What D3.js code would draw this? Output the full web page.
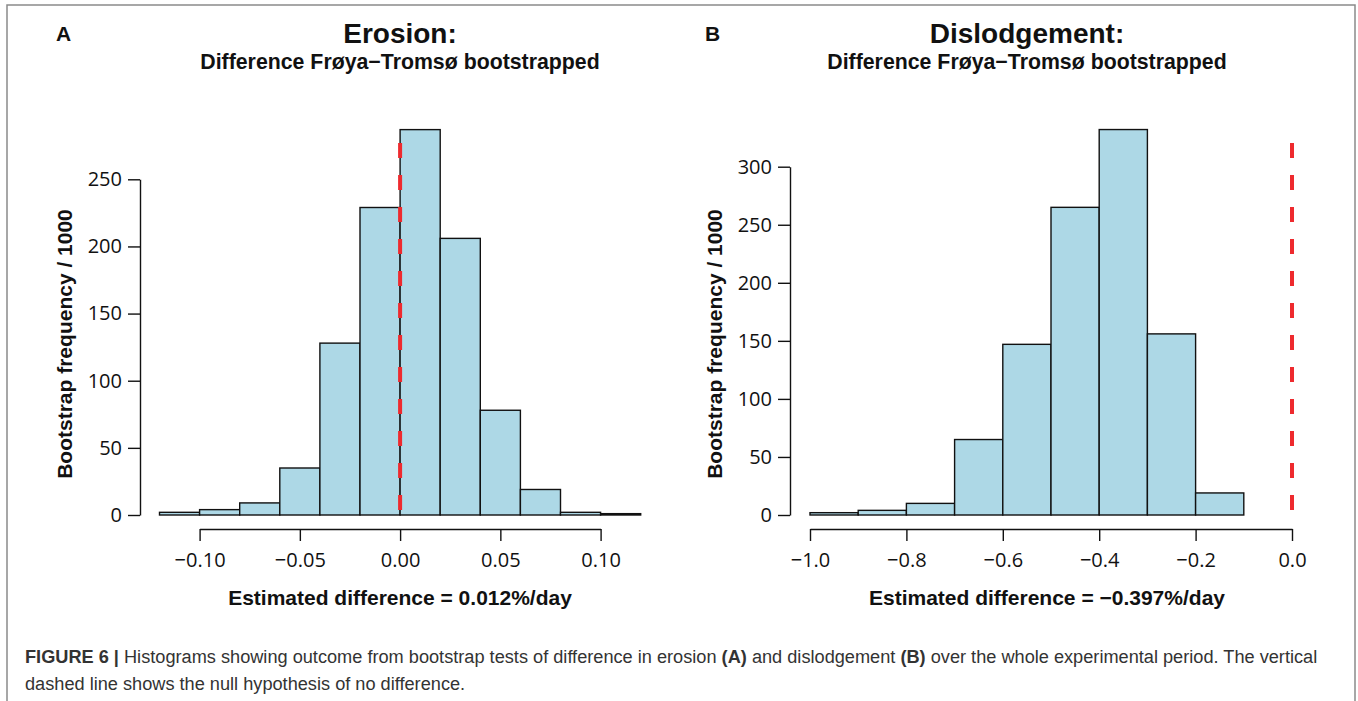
<!DOCTYPE html>
<html>
<head>
<meta charset="utf-8">
<script src="https://cdn.jsdelivr.net/npm/d3@7"></script>
<style>
  body { margin: 0; background: #fff; }
  svg { display: block; }
</style>
</head>
<body>
<svg width="1358" height="701"></svg>
<script>
// Histogram data (bin edges + counts out of 1000)
const erosionBreaks = [-0.12, -0.10, -0.08, -0.06, -0.04, -0.02, 0.00, 0.02, 0.04, 0.06, 0.08, 0.10, 0.12];
const erosionCounts = [2, 4, 9, 35, 128, 229, 287, 206, 78, 19, 2, 1];
const erosionXTicks = [-0.10, -0.05, 0.00, 0.05, 0.10];
const erosionYTicks = [0, 50, 100, 150, 200, 250];

const dislodgeBreaks = [-1.0, -0.9, -0.8, -0.7, -0.6, -0.5, -0.4, -0.3, -0.2, -0.1];
const dislodgeCounts = [2, 4, 10, 65, 147, 265, 332, 156, 19];
const dislodgeXTicks = [-1.0, -0.8, -0.6, -0.4, -0.2, 0.0];
const dislodgeYTicks = [0, 50, 100, 150, 200, 250, 300];

const nullValue = 0;

let width = 1358,
  height = 701;

let svg = d3.select("svg").attr("viewBox", "0 0 " + width + " " + height);

// outer frame (gray, open at the bottom)
svg.append("path")
  .attr("d", "M7," + (height + 2) + " L7,5 L1355,5 L1355," + (height + 2))
  .attr("fill", "none")
  .attr("stroke", "#8a8a8a")
  .attr("stroke-width", 1.5);

const tickFont = "'Open Sans', sans-serif";
const boldFont = "'Liberation Sans', Arial, sans-serif";
const tickSize = 20;

function drawPanel(opt) {
  let g = svg.append("g");

  let x = d3.scaleLinear().domain(opt.xDomain).range(opt.xRange);
  let y = d3.scaleLinear().domain([0, d3.max(opt.yTicks)]).range([515, opt.yTop]);

  let bins = opt.counts.map((c, i) => ({ x0: opt.breaks[i], x1: opt.breaks[i + 1], n: c }));

  g.selectAll("rect.bar")
    .data(bins)
    .enter()
    .append("rect")
    .attr("class", "bar")
    .attr("x", d => x(d.x0))
    .attr("width", d => x(d.x1) - x(d.x0))
    .attr("y", d => y(d.n))
    .attr("height", d => y(0) - y(d.n))
    .attr("fill", "#add8e6")
    .attr("stroke", "#111")
    .attr("stroke-width", 1.4);

  // null hypothesis line
  g.append("line")
    .attr("x1", x(nullValue)).attr("x2", x(nullValue))
    .attr("y1", 143).attr("y2", y(0) + 1)
    .attr("stroke", "#ee2a2e")
    .attr("stroke-width", 4)
    .attr("stroke-dasharray", "15,17");

  // y axis
  let yAxis = g.append("g")
    .attr("transform", "translate(" + opt.yAxisX + ",0)")
    .call(d3.axisLeft(y).tickValues(opt.yTicks).tickSize(12).tickSizeOuter(0).tickPadding(6).tickFormat(d3.format("d")));
  yAxis.attr("font-family", tickFont).attr("font-size", tickSize);
  yAxis.selectAll("path, line").attr("stroke", "#111").attr("stroke-width", 1.4);
  yAxis.selectAll("text").attr("fill", "#111");

  // x axis, line spans only the labelled ticks
  let xa = x.copy()
    .domain(d3.extent(opt.xTicks))
    .range(d3.extent(opt.xTicks).map(x));
  let xAxis = g.append("g")
    .attr("transform", "translate(0,529)")
    .call(d3.axisBottom(xa).tickValues(opt.xTicks).tickSize(12).tickSizeOuter(0).tickPadding(12).tickFormat(d3.format(opt.fmt)));
  xAxis.attr("font-family", tickFont).attr("font-size", tickSize);
  xAxis.selectAll("path, line").attr("stroke", "#111").attr("stroke-width", 1.4);
  xAxis.selectAll("text").attr("fill", "#111");

  // labels
  g.append("text")
    .attr("x", opt.xLabelX).attr("y", 605)
    .attr("text-anchor", "middle")
    .attr("font-family", boldFont).attr("font-weight", "bold").attr("font-size", 21)
    .attr("fill", "#111")
    .text(opt.xLabel);

  g.append("text")
    .attr("transform", "translate(" + opt.yLabelX + ",344) rotate(-90)")
    .attr("text-anchor", "middle")
    .attr("font-family", boldFont).attr("font-weight", "bold").attr("font-size", 21)
    .attr("fill", "#111")
    .text("Bootstrap frequency / 1000");

  g.append("text")
    .attr("x", opt.titleX).attr("y", 43)
    .attr("text-anchor", "middle")
    .attr("font-family", boldFont).attr("font-weight", "bold").attr("font-size", 28)
    .attr("fill", "#111")
    .text(opt.title);

  g.append("text")
    .attr("x", opt.titleX).attr("y", 69)
    .attr("text-anchor", "middle")
    .attr("font-family", boldFont).attr("font-weight", "bold").attr("font-size", 21.3)
    .attr("fill", "#111")
    .text("Difference Frøya\u2212Tromsø bootstrapped");

  g.append("text")
    .attr("x", opt.letterX).attr("y", 41)
    .attr("font-family", boldFont).attr("font-weight", "bold").attr("font-size", 21)
    .attr("fill", "#111")
    .text(opt.letter);
}

drawPanel({
  breaks: erosionBreaks, counts: erosionCounts,
  xTicks: erosionXTicks, yTicks: erosionYTicks,
  xDomain: [-0.12, 0.12], xRange: [159.5, 640.7], yTop: 179.3,
  yAxisX: 140, fmt: ".2f",
  xLabel: "Estimated difference = 0.012%/day", xLabelX: 400,
  yLabelX: 72, title: "Erosion:", titleX: 400,
  letter: "A", letterX: 56
});

drawPanel({
  breaks: dislodgeBreaks, counts: dislodgeCounts,
  xTicks: dislodgeXTicks, yTicks: dislodgeYTicks,
  xDomain: [-1.0, 0.0], xRange: [810, 1292], yTop: 166.7,
  yAxisX: 790, fmt: ".1f",
  xLabel: "Estimated difference = \u22120.397%/day", xLabelX: 1047,
  yLabelX: 722, title: "Dislodgement:", titleX: 1027,
  letter: "B", letterX: 705
});

// figure caption
let cap = svg.append("g")
  .attr("font-family", boldFont)
  .attr("fill", "#333");

let line1 = cap.append("text").attr("x", 25).attr("y", 663).attr("font-size", 16);
line1.append("tspan").attr("font-weight", "bold").text("FIGURE 6 | ");
line1.append("tspan").text("Histograms showing outcome from bootstrap tests of difference in erosion ");
line1.append("tspan").attr("font-weight", "bold").text("(A)");
line1.append("tspan").text(" and dislodgement ");
line1.append("tspan").attr("font-weight", "bold").text("(B)");
line1.append("tspan").text(" over the whole experimental period. The vertical");

let line2 = cap.append("text").attr("x", 25).attr("y", 690).attr("font-size", 16)
  .text("dashed line shows the null hypothesis of no difference.");

// fit caption to the width used in the figure
let w = line1.node().getComputedTextLength();
let fs = 16 * 1293 / w;
line1.attr("font-size", fs);
line2.attr("font-size", fs);
</script>
</body>
</html>
